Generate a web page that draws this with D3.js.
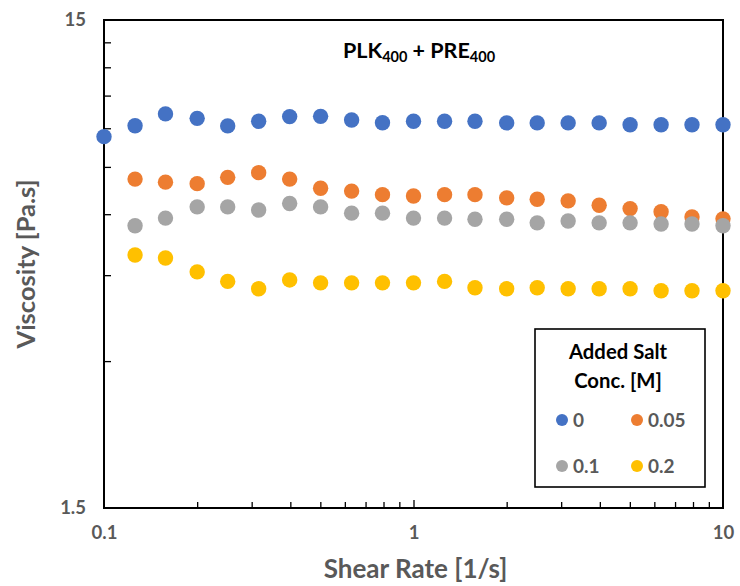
<!DOCTYPE html>
<html>
<head>
<meta charset="utf-8">
<script src="https://cdn.jsdelivr.net/npm/d3@7"></script>
<style>
  html, body { margin: 0; padding: 0; background: #fff; }
  svg { display: block; font-family: Lato, "Open Sans", sans-serif; }
</style>
</head>
<body>
<svg id="chart" width="740" height="586"></svg>
<script>
// Shear rates (1/s), 10 points per decade
const shearRate = [0.1, 0.126, 0.158, 0.2, 0.251, 0.316, 0.398, 0.501, 0.631, 0.794,
                   1, 1.26, 1.58, 2, 2.51, 3.16, 3.98, 5.01, 6.31, 7.94, 10];

// Viscosity (Pa.s) for each added salt concentration
const visc0    = [8.65, 9.11, 9.63, 9.43, 9.10, 9.30, 9.51, 9.52, 9.36, 9.24,
                  9.30, 9.30, 9.30, 9.23, 9.23, 9.23, 9.23, 9.15, 9.15, 9.15, 9.15];
const visc005  = [null, 7.08, 6.98, 6.93, 7.14, 7.30, 7.08, 6.78, 6.69, 6.58,
                  6.54, 6.58, 6.58, 6.48, 6.44, 6.39, 6.26, 6.16, 6.07, 5.92, 5.87];
const visc01   = [null, 5.68, 5.89, 6.21, 6.21, 6.12, 6.31, 6.21, 6.03, 6.03,
                  5.89, 5.89, 5.86, 5.86, 5.76, 5.81, 5.76, 5.76, 5.73, 5.73, 5.68];
const visc02   = [null, 4.95, 4.88, 4.57, 4.37, 4.22, 4.40, 4.34, 4.34, 4.34,
                  4.34, 4.37, 4.24, 4.22, 4.24, 4.22, 4.22, 4.22, 4.18, 4.18, 4.18];

const seriesNames  = ["0", "0.05", "0.1", "0.2"];
const seriesValues = [visc0, visc005, visc01, visc02];
const seriesColors = ["#4472C4", "#ED7D31", "#A5A5A5", "#FFC000"];

const xTickLabels = [0.1, 1, 10];
const yTickLabels = [1.5, 15];
const yMinorTicks = [3, 4.5, 6, 7.5, 9, 10.5, 12, 13.5];
const xMinorTicks = [0.2, 0.3, 0.4, 0.5, 0.6, 0.7, 0.8, 0.9, 2, 3, 4, 5, 6, 7, 8, 9];

const svg = d3.select("#chart");
const plot = { left: 104, right: 723, top: 20, bottom: 508 };

const x = d3.scaleLog().domain([0.1, 10]).range([plot.left, plot.right]);
const y = d3.scaleLog().domain([1.5, 15]).range([plot.bottom, plot.top]);

const axisGrey = "#595959";

// Inside tick marks
svg.append("g")
  .attr("transform", `translate(0,${plot.bottom})`)
  .call(d3.axisBottom(x).tickValues(xMinorTicks).tickSize(-6).tickFormat(""))
  .call(g => g.select(".domain").remove())
  .call(g => g.selectAll("line").attr("stroke", "#000").attr("stroke-width", 1.3));
svg.append("g")
  .attr("transform", `translate(0,${plot.bottom})`)
  .call(d3.axisBottom(x).tickValues([1]).tickSize(-8).tickFormat(""))
  .call(g => g.select(".domain").remove())
  .call(g => g.selectAll("line").attr("stroke", "#000").attr("stroke-width", 1.3));
svg.append("g")
  .attr("transform", `translate(${plot.left},0)`)
  .call(d3.axisLeft(y).tickValues(yMinorTicks).tickSize(-7).tickFormat(""))
  .call(g => g.select(".domain").remove())
  .call(g => g.selectAll("line").attr("stroke", "#000").attr("stroke-width", 1.3));

// Plot frame
svg.append("rect")
  .attr("x", plot.left).attr("y", plot.top)
  .attr("width", plot.right - plot.left).attr("height", plot.bottom - plot.top)
  .attr("fill", "none").attr("stroke", "#000").attr("stroke-width", 2);

// Tick labels
svg.append("g")
  .attr("transform", `translate(0,${plot.bottom})`)
  .call(d3.axisBottom(x).tickValues(xTickLabels).tickSize(0).tickPadding(18)
        .tickFormat(d => String(d)))
  .call(g => g.select(".domain").remove())
  .call(g => g.selectAll("text")
      .attr("fill", axisGrey).attr("font-size", 18.5).attr("font-weight", "bold")
      .attr("font-family", "Lato, sans-serif"));
svg.append("g")
  .attr("transform", `translate(${plot.left},0)`)
  .call(d3.axisLeft(y).tickValues(yTickLabels).tickSize(0).tickPadding(18)
        .tickFormat(d => String(d)))
  .call(g => g.select(".domain").remove())
  .call(g => g.selectAll("text")
      .attr("fill", axisGrey).attr("font-size", 18.5).attr("font-weight", "bold")
      .attr("font-family", "Lato, sans-serif"));

// Axis titles
svg.append("text")
  .attr("x", (plot.left + plot.right) / 2 + 2).attr("y", 578)
  .attr("text-anchor", "middle")
  .attr("fill", axisGrey).attr("font-size", 26).attr("font-weight", "bold")
  .text("Shear Rate [1/s]");
svg.append("text")
  .attr("transform", `translate(35,264) rotate(-90)`)
  .attr("text-anchor", "middle")
  .attr("fill", axisGrey).attr("font-size", 25.5).attr("font-weight", "bold")
  .text("Viscosity [Pa.s]");

// Chart title with subscripts
const title = svg.append("text")
  .attr("x", 419).attr("y", 58)
  .attr("text-anchor", "middle")
  .attr("fill", "#000").attr("font-size", 21.5).attr("font-weight", "bold");
title.append("tspan").text("PLK");
title.append("tspan").attr("font-size", 14.5).attr("dy", 4).text("400");
title.append("tspan").attr("dy", -4).text(" + PRE");
title.append("tspan").attr("font-size", 14.5).attr("dy", 4).text("400");

// Data points
seriesValues.forEach((vals, i) => {
  const pts = shearRate.map((s, j) => ({ s, v: vals[j] })).filter(d => d.v != null);
  svg.append("g")
    .selectAll("circle")
    .data(pts)
    .join("circle")
    .attr("cx", d => x(d.s))
    .attr("cy", d => y(d.v))
    .attr("r", 7.7)
    .attr("fill", seriesColors[i]);
});

// Legend
const legend = svg.append("g");
legend.append("rect")
  .attr("x", 535).attr("y", 329).attr("width", 170).attr("height", 158)
  .attr("fill", "#fff").attr("stroke", "#000").attr("stroke-width", 1.6);
legend.append("text")
  .attr("x", 618).attr("y", 359).attr("text-anchor", "middle")
  .attr("font-size", 20.3).attr("font-weight", "bold").attr("fill", "#000")
  .text("Added Salt");
legend.append("text")
  .attr("x", 618).attr("y", 388).attr("text-anchor", "middle")
  .attr("font-size", 20.3).attr("font-weight", "bold").attr("fill", "#000")
  .text("Conc. [M]");
const legendPos = [[562, 420], [637, 420], [562, 466], [637, 466]];
seriesNames.forEach((name, i) => {
  const [lx, ly] = legendPos[i];
  legend.append("circle").attr("cx", lx).attr("cy", ly).attr("r", 6).attr("fill", seriesColors[i]);
  legend.append("text")
    .attr("x", lx + 11).attr("y", ly + 7)
    .attr("font-size", 19).attr("font-weight", "bold").attr("fill", axisGrey)
    .text(name);
});
</script>
</body>
</html>
